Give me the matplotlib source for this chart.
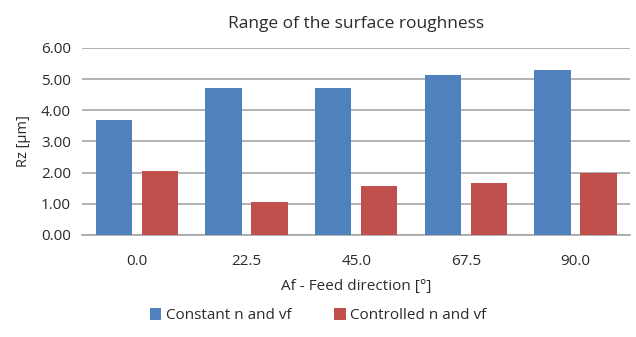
import matplotlib.pyplot as plt
import numpy as np

plt.rcParams['font.family'] = ['Open Sans', 'DejaVu Sans']

directions = ['0.0', '22.5', '45.0', '67.5', '90.0']
constant_rz = [3.67, 4.70, 4.71, 5.12, 5.28]
controlled_rz = [2.06, 1.07, 1.58, 1.67, 1.98]

fig = plt.figure(figsize=(6.36, 3.37), dpi=100)
ax = fig.add_axes([0.129, 0.303, 0.862, 0.555])

x = np.arange(len(directions))
w = 0.33
ax.bar(x - 0.21, constant_rz, w, color='#4F81BD', label='Constant n and vf', zorder=3)
ax.bar(x + 0.21, controlled_rz, w, color='#C0504D', label='Controlled n and vf', zorder=3)

ax.set_xlim(-0.5, len(directions) - 0.5)
ax.set_ylim(0, 6)
ax.set_yticks(np.arange(0, 7, 1))
ax.set_yticklabels(['%.2f' % v for v in np.arange(0, 7, 1)])
ax.set_xticks(x)
ax.set_xticklabels(directions)
ax.yaxis.grid(True, color='#A6A6A6', linewidth=1.2, zorder=0)

for s in ['top', 'right', 'left']:
    ax.spines[s].set_visible(False)
ax.spines['bottom'].set_color('#A6A6A6')
ax.spines['bottom'].set_linewidth(1.2)
ax.tick_params(axis='both', length=0, labelsize=11, colors='#2b2b2b')
ax.tick_params(axis='x', pad=14)
ax.tick_params(axis='y', pad=8)

ax.set_title('Range of the surface roughness', fontsize=12.5, color='#2b2b2b', pad=14)
ax.set_xlabel('Af - Feed direction [°]', fontsize=11, color='#2b2b2b', labelpad=7)
ax.set_ylabel('Rz [µm]', fontsize=10.5, color='#2b2b2b', labelpad=7)

fig.legend(loc='lower center', bbox_to_anchor=(0.5, 0.0), ncol=2, frameon=False,
           fontsize=11, handlelength=0.75, handleheight=0.75, handletextpad=0.3,
           columnspacing=2.8, labelcolor='#2b2b2b')

fig.savefig('out.png', dpi=100, facecolor='white')
